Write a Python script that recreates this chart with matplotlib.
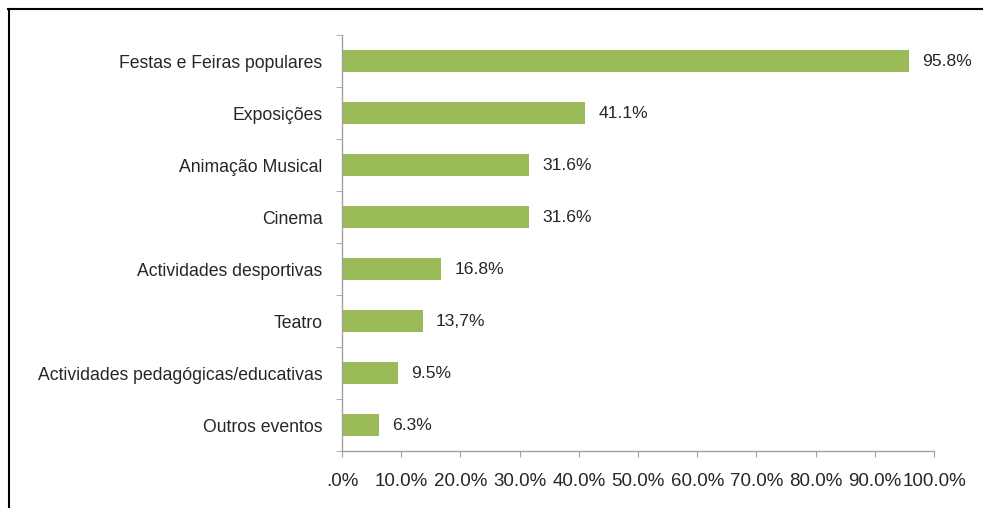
import matplotlib
matplotlib.use("Agg")
import matplotlib.pyplot as plt
from matplotlib.lines import Line2D

categories = ["Festas e Feiras populares", "Exposições", "Animação Musical", "Cinema",
              "Actividades desportivas", "Teatro", "Actividades pedagógicas/educativas",
              "Outros eventos"]
values = [95.8, 41.1, 31.6, 31.6, 16.8, 13.7, 9.5, 6.3]
value_labels = ["95.8%", "41.1%", "31.6%", "31.6%", "16.8%", "13,7%", "9.5%", "6.3%"]
xticks = [0, 10, 20, 30, 40, 50, 60, 70, 80, 90, 100]
xtick_labels = [".0%", "10.0%", "20.0%", "30.0%", "40.0%", "50.0%", "60.0%", "70.0%",
                "80.0%", "90.0%", "100.0%"]

plt.rcParams['font.family'] = ['Liberation Sans', 'DejaVu Sans']
W, H = 983, 508
fig = plt.figure(figsize=(W / 100, H / 100), dpi=100)
ax = fig.add_axes([342 / W, 1 - 451 / H, (934 - 342) / W, (451 - 35) / H])

n = len(categories)
ypos = list(range(n))
ax.barh(ypos, values, height=0.41, color="#9BBB59", edgecolor="none")
ax.set_ylim(n - 0.5, -0.5)
ax.set_xlim(0, 100)

txt_color = "#262626"
for y, v, lab in zip(ypos, values, value_labels):
    ax.annotate(lab, (v, y), xytext=(13, 0), textcoords="offset pixels",
                va="center", ha="left", fontsize=12.6, color=txt_color)

ax.set_yticks(ypos)
ax.set_yticklabels(categories, fontsize=12.7, color=txt_color)
ax.tick_params(axis="y", length=0, pad=14)
# minor ticks at category boundaries
ax.set_yticks([i - 0.5 for i in range(n + 1)], minor=True)
ax.tick_params(axis="y", which="minor", length=4, color="#A0A0A0", direction="out")

ax.set_xticks(xticks)
ax.set_xticklabels(xtick_labels, fontsize=13.5, color=txt_color)
ax.tick_params(axis="x", length=4, color="#A0A0A0", direction="out", pad=12)

for s in ["top", "right"]:
    ax.spines[s].set_visible(False)
for s in ["left", "bottom"]:
    ax.spines[s].set_color("#A0A0A0")
    ax.spines[s].set_linewidth(1)

# outer frame (left and top)
fig.add_artist(Line2D([8.5 / W, 8.5 / W], [0, 1 - 9 / H], transform=fig.transFigure,
                      color="black", lw=1.5))
fig.add_artist(Line2D([8 / W, 1], [1 - 9 / H, 1 - 9 / H], transform=fig.transFigure,
                      color="black", lw=1.5))

fig.savefig("out.png", dpi=100, facecolor="white")
